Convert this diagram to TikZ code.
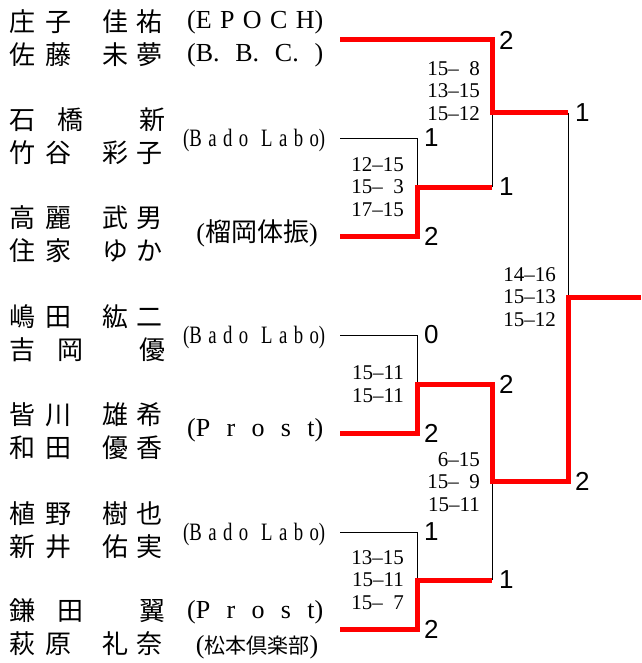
\documentclass[tikz,border=0pt]{standalone}
\usepackage{fontspec}
\setmainfont{Liberation Serif}
\newfontfamily\cjk{Noto Sans CJK JP}
\newfontfamily\numfont{Liberation Sans}
\usetikzlibrary{positioning}

\newcommand\fourname[4]{\makebox[36pt]{#1}\makebox[36pt]{#2}\hspace{22pt}\makebox[34pt]{#3}\makebox[34pt]{#4}}
\newcommand\threename[3]{\makebox[36pt]{#1}\makebox[60pt]{#2}\makebox[104pt]{#3}}
\newcommand\clubbox[2][136pt]{\makebox[#1][s]{#2}}

\begin{document}
\begin{tikzpicture}[%
	x=1pt, y=-1pt,
	node distance=7pt,
	win/.style={draw=red, line width=5pt},
	lose/.style={draw=black, line width=0.8pt},
	player/.style={anchor=west, inner sep=0pt, font=\cjk\fontsize{26}{26}\selectfont},
	club/.style={anchor=west, inner sep=0pt, font=\fontsize{26}{26}\selectfont},
	narrow/.style={font=\fontsize{25}{25}\selectfont\addfontfeature{FakeStretch=0.75}},
	games/.style={anchor=east, inner sep=0pt, align=right, font=\fontsize{21}{22.5}\selectfont},
	result/.style={inner sep=0pt, font=\numfont\fontsize{26}{26}\selectfont}
	]
	\fill[white] (0,0) rectangle (641,663);
	\useasboundingbox (0,0) rectangle (641,663);
	
	% players
	\node[player] (p1a) at (4,21.5) {\fourname{庄}{子}{佳}{祐}};
	\node[player] (p1b) at (4,55) {\fourname{佐}{藤}{未}{夢}};
	\node[player] (p2a) at (4,119.5) {\threename{石}{橋}{新}};
	\node[player] (p2b) at (4,153) {\fourname{竹}{谷}{彩}{子}};
	\node[player] (p3a) at (4,217.5) {\fourname{高}{麗}{武}{男}};
	\node[player] (p3b) at (4,251) {\fourname{住}{家}{ゆ}{か}};
	\node[player] (p4a) at (4,316.5) {\fourname{嶋}{田}{紘}{二}};
	\node[player] (p4b) at (4,350) {\threename{吉}{岡}{優}};
	\node[player] (p5a) at (4,414.5) {\fourname{皆}{川}{雄}{希}};
	\node[player] (p5b) at (4,448) {\fourname{和}{田}{優}{香}};
	\node[player] (p6a) at (4,513.5) {\fourname{植}{野}{樹}{也}};
	\node[player] (p6b) at (4,547) {\fourname{新}{井}{佑}{実}};
	\node[player] (p7a) at (4,610.5) {\threename{鎌}{田}{翼}};
	\node[player] (p7b) at (4,644) {\fourname{萩}{原}{礼}{奈}};
	
	% clubs
	\node[club] (c1a) at (187,22) {\clubbox{(E P O C H)}};
	\node[club] (c1b) at (187,55) {\clubbox{(B.\ B.\ C.\ )}};
	\node[club, narrow] (c2) at (183,140) {\clubbox[142pt]{(B a d o\ \ L a b o)}};
	\node[club, anchor=center] (c3) at (257,233) {({\cjk 榴岡体振})};
	\node[club, narrow] (c4) at (183,337) {\clubbox[142pt]{(B a d o\ \ L a b o)}};
	\node[club] (c5) at (187,430) {\clubbox{(P r o s t)}};
	\node[club, narrow] (c6) at (183,534) {\clubbox[142pt]{(B a d o\ \ L a b o)}};
	\node[club] (c7a) at (187,612) {\clubbox{(P r o s t)}};
	\node[club, anchor=center] (c7b) at (257,647) {({\cjk\fontsize{21}{21}\selectfont 松本倶楽部})};
	
	% bracket points
	\coordinate (e1) at (340,40);  \coordinate (b1) at (492,40);
	\coordinate (e2) at (340,138); \coordinate (a2) at (417,138);
	\coordinate (e3) at (340,236); \coordinate (a3) at (417,236);
	\coordinate (e4) at (340,335); \coordinate (a4) at (417,335);
	\coordinate (e5) at (340,433); \coordinate (a5) at (417,433);
	\coordinate (e6) at (340,532); \coordinate (a6) at (417,532);
	\coordinate (e7) at (340,629); \coordinate (a7) at (417,629);
	\coordinate (m23) at (417,187); \coordinate (b23) at (492,187);
	\coordinate (m45) at (417,384); \coordinate (b45) at (492,384);
	\coordinate (m67) at (417,580); \coordinate (b67) at (492,580);
	\coordinate (m1) at (492,113);  \coordinate (f1) at (568,113);
	\coordinate (m2) at (492,481);  \coordinate (f2) at (568,481);
	\coordinate (mf) at (568,297);  \coordinate (champ) at (641,297);
	
	\draw[lose] (e2) -- (a2) -- (m23);
	\draw[lose] (e4) -- (a4) -- (m45);
	\draw[lose] (e6) -- (a6) -- (m67);
	\draw[lose] (b23) -- (m1);
	\draw[lose] (b67) -- (m2);
	\draw[lose] (f1) -- (mf);
	
	\draw[win] (e1) -- (b1) -- (m1) -- (f1);
	\draw[win] (e3) -- (a3) -- (m23) -- (b23);
	\draw[win] (e5) -- (a5) -- (m45) -- (b45) -- (m2) -- (f2) -- (mf) -- (champ);
	\draw[win] (e7) -- (a7) -- (m67) -- (b67);
	
	% games won
	\node[result, right=of b1] (r1) {2};
	\node[result, right=of a2] (r2) {1};
	\node[result, right=of a3] (r3) {2};
	\node[result, right=of b23] (r23) {1};
	\node[result, right=of f1] (rf1) {1};
	\node[result, right=of a4] (r4) {0};
	\node[result, right=of a5] (r5) {2};
	\node[result, right=of b45] (r45) {2};
	\node[result, right=of f2] (rf2) {2};
	\node[result, right=of a6] (r6) {1};
	\node[result, right=of a7] (r7) {2};
	\node[result, right=of b67] (r67) {1};
	
	% scores
	\node[games] (s1) at (480,91) {15–\phantom{1}8\\13–15\\15–12};
	\node[games] (s23) at (404,187) {12–15\\15–\phantom{1}3\\17–15};
	\node[games] (sf) at (556,297) {14–16\\15–13\\15–12};
	\node[games] (s45) at (404,384) {15–11\\15–11};
	\node[games] (s2) at (480,482) {6–15\\15–\phantom{1}9\\15–11};
	\node[games] (s67) at (404,580) {13–15\\15–11\\15–\phantom{1}7};
\end{tikzpicture}
\end{document}
